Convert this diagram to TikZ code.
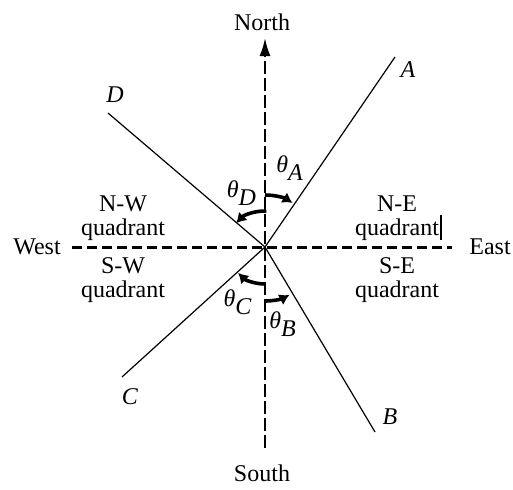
\documentclass[tikz,border=0pt]{standalone}
\usepackage{fontspec}
\setmainfont{Liberation Serif}
\usetikzlibrary{arrows.meta}

\begin{document}
\begin{tikzpicture}[
  x=0.5pt,y=0.5pt,
  font=\fontsize{12}{12}\selectfont,
  lbl/.style={inner sep=1pt,align=center},
  axis/.style={line width=1.5pt,dash pattern=on 5pt off 2.5pt},
  vaxis/.style={line width=1.1pt,dash pattern=on 6.5pt off 2pt,-{Latex[length=9pt,width=5.5pt]}},
  ray/.style={line width=0.6pt},
  ang/.style={line width=1.8pt,-{Latex[length=5pt,width=6pt]}}
]
\useasboundingbox (0,0) rectangle (513,489);
\coordinate (o) at (265,242);
\coordinate (n) at (265,451);
\coordinate (s) at (265,41);
\coordinate (w) at (72,242);
\coordinate (e) at (452,242);
\coordinate (a) at (395,432);
\coordinate (b) at (375,57);
\coordinate (c) at (122,112);
\coordinate (d) at (108,376);
\coordinate (cur1) at (441,274);
\coordinate (cur2) at (441,249);
\node[lbl] (north) at (262,467) {North};
\node[lbl] (south) at (262,16) {South};
\node[lbl] (west) at (37,242) {West};
\node[lbl] (east) at (490,242) {East};
\node[lbl] (la) at (408,419) {\textit{A}};
\node[lbl] (lb) at (390,72) {\textit{B}};
\node[lbl] (lc) at (130,92) {\textit{C}};
\node[lbl] (ld) at (115,394) {\textit{D}};
\node[lbl] (nw) at (123,271) {N-W\\quadrant};
\node[lbl] (sw) at (123,209) {S-W\\quadrant};
\node[lbl] (ne) at (397,271) {N-E\\quadrant};
\node[lbl] (se) at (397,209) {S-E\\quadrant};
\node[lbl] (ta) at (290,321) {\textit{θ}$_{\textit{A}}$};
\node[lbl] (td) at (242,296) {\textit{θ}$_{\textit{D}}$};
\node[lbl] (tc) at (238,187) {\textit{θ}$_{\textit{C}}$};
\node[lbl] (tb) at (283,165) {\textit{θ}$_{\textit{B}}$};
\draw[vaxis] (s) -- (n);
\draw[axis] (w) -- (e);
\foreach \p in {a,b,c,d} \draw[ray] (o) -- (\p);
\draw[line width=0.6pt] (cur1) -- (cur2);
\draw[ang] (o) ++(90:52) arc[start angle=90,end angle=58,radius=52];
\draw[ang] (o) ++(88:36) arc[start angle=88,end angle=136,radius=40];
\draw[ang] (o) ++(270:37) arc[start angle=270,end angle=225,radius=38];
\draw[ang] (o) ++(270:54) arc[start angle=270,end angle=298,radius=52];
\end{tikzpicture}
\end{document}
